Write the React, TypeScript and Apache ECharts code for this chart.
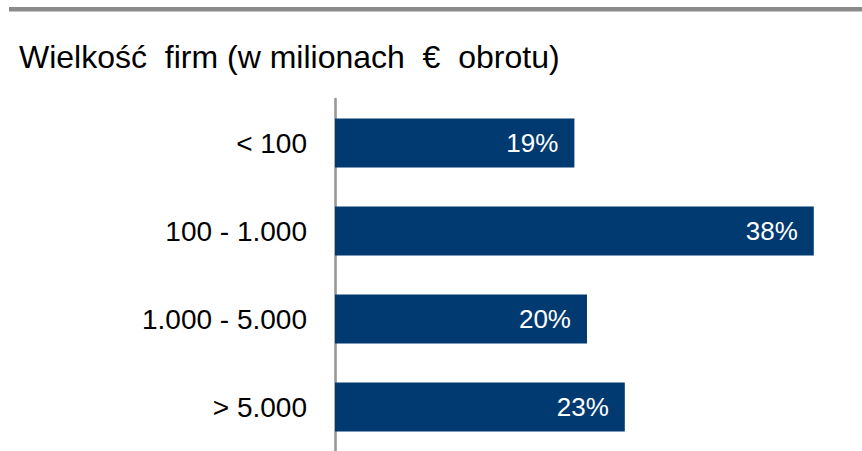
import React, { useEffect, useRef } from "react";
import * as echarts from "echarts";

const categories = ["< 100", "100 - 1.000", "1.000 - 5.000", "> 5.000"];
const values = [19, 38, 20, 23];
const titleText = "Wielkość  firm (w milionach  €  obrotu)";

export default function App() {
  const ref = useRef<HTMLDivElement>(null);
  useEffect(() => {
    if (!ref.current) return;
    const chart = echarts.init(ref.current, undefined, { renderer: "svg" });
    chart.setOption({
      animation: false,
      backgroundColor: "#ffffff",
      textStyle: { fontFamily: "Liberation Sans, Arial, sans-serif" },
      graphic: [
        {
          type: "rect",
          shape: { x: 9, y: 7, width: 853, height: 4.5 },
          style: { fill: "#8a8a8a" },
        },
        {
          type: "text",
          x: 19,
          y: 57,
          style: {
            text: titleText,
            fontSize: 32,
            fontFamily: "Liberation Sans, Arial, sans-serif",
            fill: "#000000",
            verticalAlign: "middle",
            align: "left",
          },
        },
      ],
      grid: { left: 335, width: 504, top: 99, height: 357, containLabel: false },
      xAxis: {
        type: "value",
        min: 0,
        max: 40,
        show: false,
      },
      yAxis: {
        type: "category",
        data: categories,
        inverse: true,
        axisLine: { show: true, lineStyle: { color: "#999999", width: 2.6 } },
        axisTick: { show: false },
        axisLabel: {
          color: "#000000",
          fontSize: 28,
          margin: 28,
          fontFamily: "Liberation Sans, Arial, sans-serif",
        },
      },
      series: [
        {
          type: "bar",
          data: values,
          barCategoryGap: "44.5%",
          itemStyle: { color: "#003a70" },
          label: {
            show: true,
            position: "insideRight",
            distance: 16,
            formatter: "{c}%",
            color: "#ffffff",
            fontSize: 26,
            fontFamily: "Liberation Sans, Arial, sans-serif",
          },
        },
      ],
    });
    return () => chart.dispose();
  }, []);
  return (
    <div
      ref={ref}
      style={{ position: "fixed", left: 0, top: 0, width: 862, height: 451 }}
    />
  );
}
